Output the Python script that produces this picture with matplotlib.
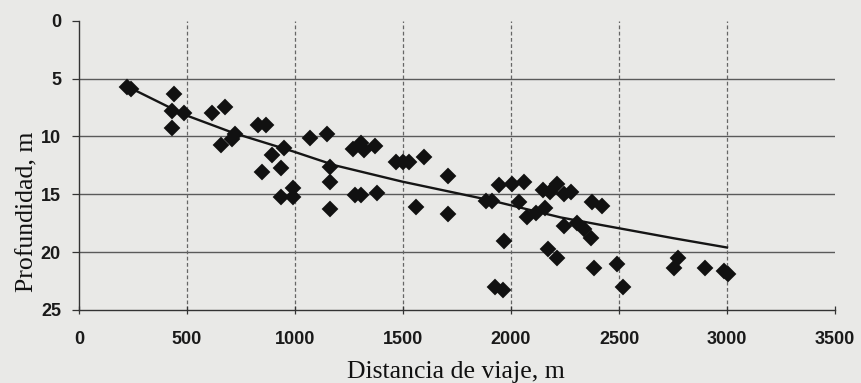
import matplotlib
matplotlib.use("Agg")
import matplotlib.pyplot as plt

# Data
dist_m = [220, 240, 441, 431, 488, 431, 615, 677, 658, 710, 722, 831, 868, 846, 892,
          935, 951, 935, 992, 989, 1069, 1146, 1161, 1161, 1161, 1269, 1307, 1320,
          1372, 1280, 1305, 1380, 1469, 1500, 1530, 1597, 1561, 1707, 1707, 1885,
          1910, 1943, 2004, 2058, 1969, 1926, 1963, 2038, 2073, 2115, 2157, 2146,
          2181, 2212, 2246, 2280, 2246, 2307, 2338, 2369, 2169, 2212, 2384, 2377,
          2423, 2492, 2520, 2772, 2753, 2900, 2985, 3003]
depth_m = [5.7, 5.9, 6.3, 7.8, 8.0, 9.3, 8.0, 7.5, 10.7, 10.2, 9.8, 9.0, 9.0, 13.1, 11.6,
           12.7, 11.0, 15.2, 14.5, 15.2, 10.1, 9.8, 12.6, 13.9, 16.3, 11.1, 10.6, 11.2,
           10.8, 15.1, 15.1, 14.9, 12.2, 12.2, 12.2, 11.8, 16.1, 13.4, 16.7, 15.6,
           15.6, 14.2, 14.1, 13.9, 19.0, 23.0, 23.3, 15.7, 17.0, 16.6, 16.2, 14.6,
           14.8, 14.1, 15.0, 14.8, 17.7, 17.5, 18.0, 18.8, 19.7, 20.5, 21.4, 15.7,
           16.0, 21.0, 23.0, 20.5, 21.4, 21.4, 21.6, 21.9]

trend_x = [220, 485, 715, 992, 1185, 1495, 1900, 2230, 2431, 2753, 3000]
trend_y = [5.65, 8.1, 9.7, 11.3, 12.5, 13.9, 15.5, 17.0, 17.7, 18.8, 19.6]

x_ticks = [0, 500, 1000, 1500, 2000, 2500, 3000, 3500]
y_ticks = [0, 5, 10, 15, 20, 25]

bg = "#e9e9e7"
fig = plt.figure(figsize=(8.61, 3.83), dpi=100, facecolor=bg)
ax = fig.add_axes([79 / 861, 1 - 310 / 383, 756 / 861, 289.3 / 383])
ax.set_facecolor(bg)

ax.set_xlim(0, 3500)
ax.set_ylim(25, 0)

# grid
for yv in y_ticks[1:-1]:
    ax.axhline(yv, color="#5a5a5a", lw=1.0, zorder=1)
for xv in x_ticks[1:-1]:
    ax.axvline(xv, color="#666666", lw=0.9, ls=(0, (3, 2)), zorder=1)

ax.plot(trend_x, trend_y, color="#151515", lw=1.7, zorder=3)
ax.plot(dist_m, depth_m, ls="none", marker="D", ms=7.6, color="#111111",
        markeredgewidth=1.4, markeredgecolor="#111111", zorder=4)
ax.lines[-1].set_solid_joinstyle("round")

for s in ["top", "right"]:
    ax.spines[s].set_visible(False)
for s in ["left", "bottom"]:
    ax.spines[s].set_color("#333333")
    ax.spines[s].set_linewidth(1.0)

ax.set_xticks(x_ticks)
ax.set_yticks(y_ticks)
ax.tick_params(axis="x", direction="inout", length=6, width=0.9, color="#333333", pad=12)
ax.tick_params(axis="y", direction="out", length=5, width=0.9, color="#333333", pad=8)
for lab in ax.get_xticklabels() + ax.get_yticklabels():
    lab.set_fontfamily("Liberation Sans")
    lab.set_fontsize(13)
    lab.set_fontweight("bold")
    lab.set_color("#1a1a1a")

ax.set_xlabel("Distancia de viaje, m", fontfamily="Liberation Serif", fontsize=18.5,
              color="#111111")
ax.set_ylabel("Profundidad, m", fontfamily="Liberation Serif", fontsize=18.5,
              color="#111111")
ax.xaxis.set_label_coords((456 - 79) / 756, -(378 - 310) / 289.3)
ax.xaxis.label.set_verticalalignment("baseline")
ax.yaxis.set_label_coords((27 - 79) / 756, (310 - 212) / 289.3)
ax.yaxis.label.set_verticalalignment("center")

fig.savefig("out.png", dpi=100, facecolor=bg)
